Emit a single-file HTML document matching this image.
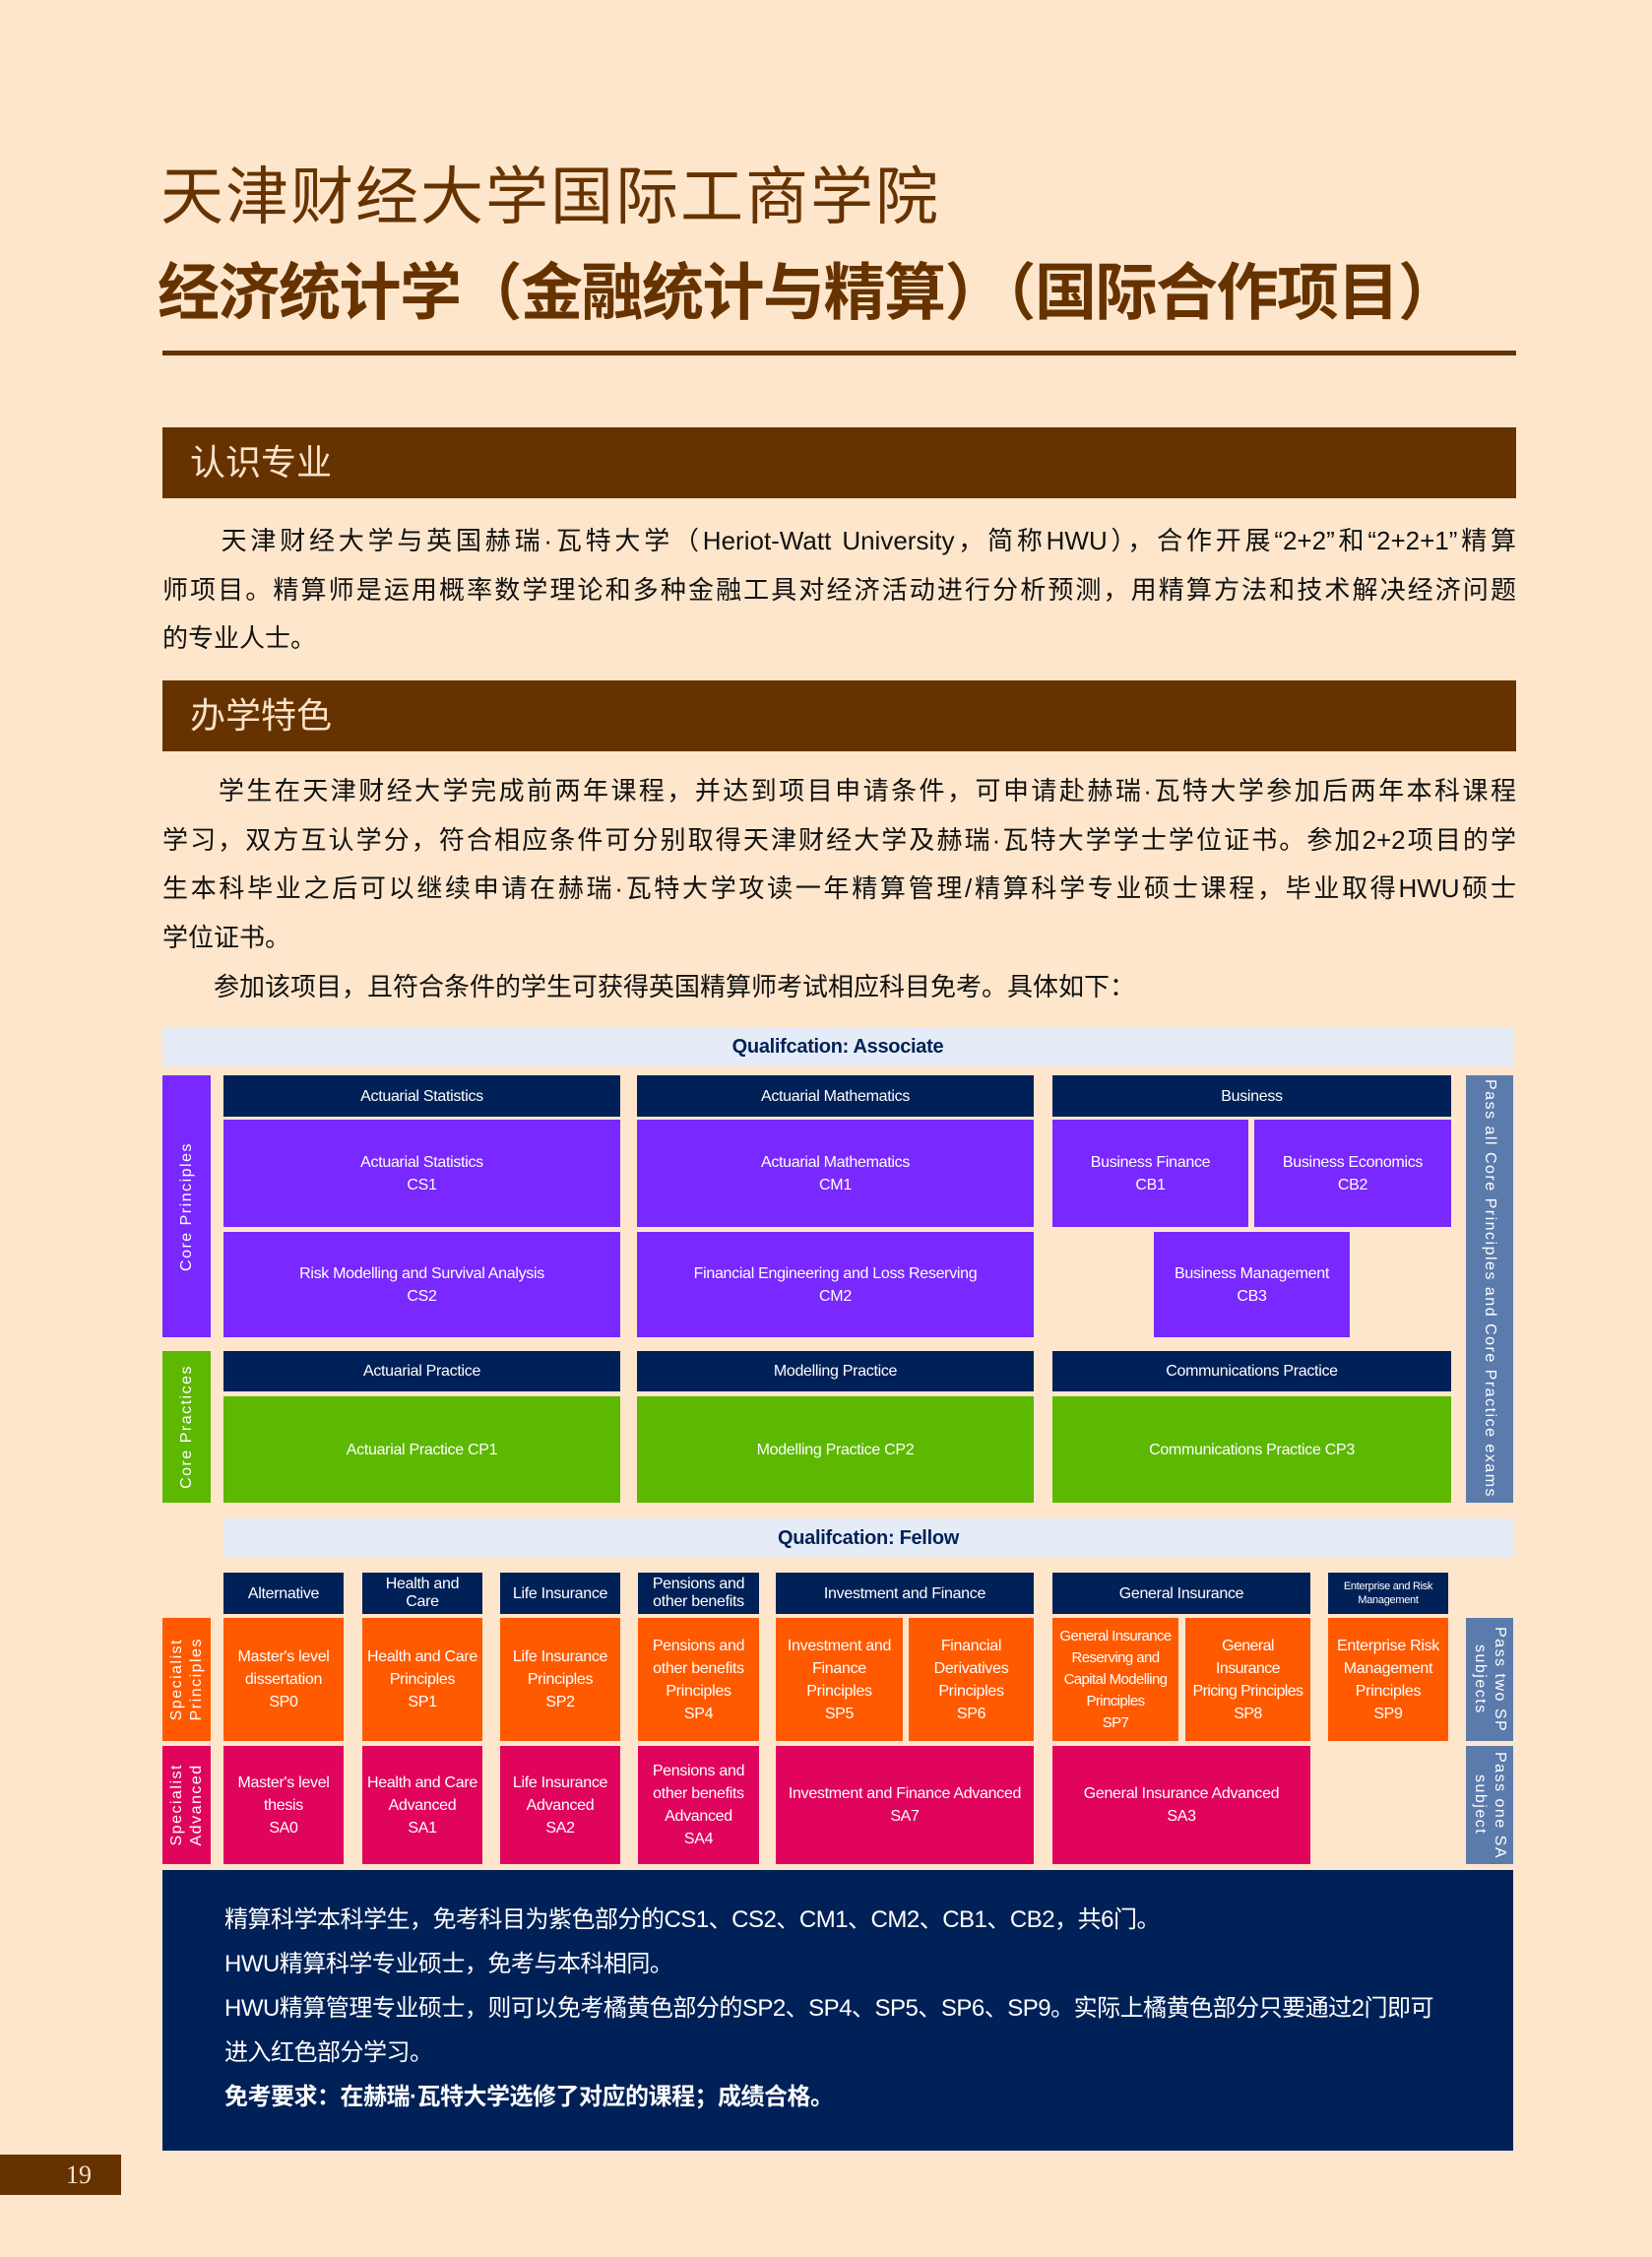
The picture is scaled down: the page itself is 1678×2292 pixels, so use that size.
<!DOCTYPE html>
<html><head><meta charset="utf-8"><style>
html,body{margin:0;padding:0}
body{width:1678px;height:2292px;background:#fee6cc;position:relative;overflow:hidden;font-family:"Liberation Sans","Noto Sans CJK SC",sans-serif}
.a{position:absolute}
.t1{left:163px;top:160px;font:64px/80px "Liberation Sans","Noto Sans CJK SC",sans-serif;color:#663300;letter-spacing:2px;white-space:nowrap}
.t2{left:160px;top:258px;font:bold 63px/80px "Liberation Sans","Noto Sans CJK SC",sans-serif;color:#663300;white-space:nowrap;letter-spacing:-1.5px}
.rule{left:165px;top:356px;width:1375px;height:5px;background:#663300}
.sec{left:165px;width:1375px;height:72px;background:#663300;color:#fbe3c9;font:36px/72px "Liberation Sans","Noto Sans CJK SC",sans-serif;padding-left:28px;box-sizing:border-box}
.p{left:165px;width:1375px;font:26px/49.7px "Liberation Sans","Noto Sans CJK SC",sans-serif;color:#111}
.p div{text-align:justify;text-align-last:justify;height:49.7px;overflow:hidden}
.p div.l{text-align-last:left}
.b{position:absolute;display:flex;align-items:center;justify-content:center;text-align:center;color:#fff;font:16px/23px "Liberation Sans",sans-serif;box-sizing:border-box;letter-spacing:-0.3px}
.n{background:#002157}.pu{background:#7928ff}.g{background:#5cb800}.o{background:#ff5a00}.r{background:#e0045c}.lt{background:#e5ecf7}.sl{background:#5b7bad}
.vl{writing-mode:vertical-rl;transform:rotate(180deg);letter-spacing:1.5px;font-size:16px;line-height:20px}
.vr{writing-mode:vertical-rl;letter-spacing:1.5px;font-size:16px;line-height:20px}
.box{left:165px;top:1899px;width:1372px;height:285px;background:#002157;color:#fff;font:24px/45px "Liberation Sans","Noto Sans CJK SC",sans-serif;padding:28px 0 0 63px;box-sizing:border-box;white-space:nowrap;letter-spacing:-0.5px}
</style></head><body>
<div class="a t1">天津财经大学国际工商学院</div>
<div class="a t2">经济统计学（金融统计与精算）（国际合作项目）</div>
<div class="a rule"></div>
<div class="a sec" style="top:434px">认识专业</div>
<div class="a p" style="top:525px">
<div>　　天津财经大学与英国赫瑞·瓦特大学（Heriot-Watt University，简称HWU），合作开展“2+2”和“2+2+1”精算</div>
<div>师项目。精算师是运用概率数学理论和多种金融工具对经济活动进行分析预测，用精算方法和技术解决经济问题</div>
<div class="l">的专业人士。</div>
</div>
<div class="a sec" style="top:691px">办学特色</div>
<div class="a p" style="top:779px">
<div>　　学生在天津财经大学完成前两年课程，并达到项目申请条件，可申请赴赫瑞·瓦特大学参加后两年本科课程</div>
<div>学习，双方互认学分，符合相应条件可分别取得天津财经大学及赫瑞·瓦特大学学士学位证书。参加2+2项目的学</div>
<div>生本科毕业之后可以继续申请在赫瑞·瓦特大学攻读一年精算管理/精算科学专业硕士课程，毕业取得HWU硕士</div>
<div class="l">学位证书。</div>
<div class="l">　　参加该项目，且符合条件的学生可获得英国精算师考试相应科目免考。具体如下：</div>
</div>

<div class="b lt" style="left:165px;top:1043px;width:1372px;height:40px;color:#002157;font-weight:bold;font-size:20px">Qualifcation: Associate</div>
<div class="b pu" style="left:165px;top:1092px;width:49px;height:266px"><span class="vl">Core Principles</span></div>
<div class="b sl" style="left:1489px;top:1092px;width:48px;height:434px"><span class="vr">Pass all Core Principles and Core Practice exams</span></div>
<div class="b n" style="left:227px;top:1092px;width:403px;height:42px">Actuarial Statistics</div>
<div class="b n" style="left:647px;top:1092px;width:403px;height:42px">Actuarial Mathematics</div>
<div class="b n" style="left:1069px;top:1092px;width:405px;height:42px">Business</div>
<div class="b pu" style="left:227px;top:1137px;width:403px;height:109px">Actuarial Statistics<br>CS1</div>
<div class="b pu" style="left:647px;top:1137px;width:403px;height:109px">Actuarial Mathematics<br>CM1</div>
<div class="b pu" style="left:1069px;top:1137px;width:199px;height:109px">Business Finance<br>CB1</div>
<div class="b pu" style="left:1274px;top:1137px;width:200px;height:109px">Business Economics<br>CB2</div>
<div class="b pu" style="left:227px;top:1251px;width:403px;height:107px">Risk Modelling and Survival Analysis<br>CS2</div>
<div class="b pu" style="left:647px;top:1251px;width:403px;height:107px">Financial Engineering and Loss Reserving<br>CM2</div>
<div class="b pu" style="left:1172px;top:1251px;width:199px;height:107px">Business Management<br>CB3</div>

<div class="b g" style="left:165px;top:1372px;width:49px;height:154px"><span class="vl">Core Practices</span></div>
<div class="b n" style="left:227px;top:1372px;width:403px;height:41px">Actuarial Practice</div>
<div class="b n" style="left:647px;top:1372px;width:403px;height:41px">Modelling Practice</div>
<div class="b n" style="left:1069px;top:1372px;width:405px;height:41px">Communications Practice</div>
<div class="b g" style="left:227px;top:1418px;width:403px;height:108px">Actuarial Practice CP1</div>
<div class="b g" style="left:647px;top:1418px;width:403px;height:108px">Modelling Practice CP2</div>
<div class="b g" style="left:1069px;top:1418px;width:405px;height:108px">Communications Practice CP3</div>

<div class="b lt" style="left:227px;top:1542px;width:1310px;height:40px;color:#002157;font-weight:bold;font-size:20px">Qualifcation: Fellow</div>
<div class="b n" style="left:227px;top:1597px;width:122px;height:42px">Alternative</div>
<div class="b n" style="left:368px;top:1597px;width:122px;height:42px;line-height:18px">Health and<br>Care</div>
<div class="b n" style="left:508px;top:1597px;width:122px;height:42px">Life Insurance</div>
<div class="b n" style="left:648px;top:1597px;width:123px;height:42px;line-height:18px">Pensions and<br>other benefits</div>
<div class="b n" style="left:788px;top:1597px;width:262px;height:42px">Investment and Finance</div>
<div class="b n" style="left:1069px;top:1597px;width:262px;height:42px">General Insurance</div>
<div class="b n" style="left:1349px;top:1597px;width:122px;height:42px;font-size:11px;line-height:14px">Enterprise and Risk<br>Management</div>

<div class="b o" style="left:165px;top:1643px;width:49px;height:125px"><span class="vl">Specialist<br>Principles</span></div>
<div class="b o" style="left:227px;top:1643px;width:122px;height:125px">Master's level<br>dissertation<br>SP0</div>
<div class="b o" style="left:368px;top:1643px;width:122px;height:125px">Health and Care<br>Principles<br>SP1</div>
<div class="b o" style="left:508px;top:1643px;width:122px;height:125px">Life Insurance<br>Principles<br>SP2</div>
<div class="b o" style="left:648px;top:1643px;width:123px;height:125px">Pensions and<br>other benefits<br>Principles<br>SP4</div>
<div class="b o" style="left:788px;top:1643px;width:129px;height:125px">Investment and<br>Finance<br>Principles<br>SP5</div>
<div class="b o" style="left:923px;top:1643px;width:127px;height:125px">Financial<br>Derivatives<br>Principles<br>SP6</div>
<div class="b o" style="left:1069px;top:1643px;width:128px;height:125px;font-size:15px;line-height:22px;letter-spacing:-0.6px">General Insurance<br>Reserving and<br>Capital Modelling<br>Principles<br>SP7</div>
<div class="b o" style="left:1204px;top:1643px;width:127px;height:125px;letter-spacing:-0.6px">General<br>Insurance<br>Pricing Principles<br>SP8</div>
<div class="b o" style="left:1349px;top:1643px;width:122px;height:125px">Enterprise Risk<br>Management<br>Principles<br>SP9</div>
<div class="b sl" style="left:1489px;top:1643px;width:48px;height:125px"><span class="vr">Pass two SP<br>subjects</span></div>

<div class="b r" style="left:165px;top:1773px;width:49px;height:120px"><span class="vl">Specialist<br>Advanced</span></div>
<div class="b r" style="left:227px;top:1773px;width:122px;height:120px">Master's level<br>thesis<br>SA0</div>
<div class="b r" style="left:368px;top:1773px;width:122px;height:120px">Health and Care<br>Advanced<br>SA1</div>
<div class="b r" style="left:508px;top:1773px;width:122px;height:120px">Life Insurance<br>Advanced<br>SA2</div>
<div class="b r" style="left:648px;top:1773px;width:123px;height:120px">Pensions and<br>other benefits<br>Advanced<br>SA4</div>
<div class="b r" style="left:788px;top:1773px;width:262px;height:120px">Investment and Finance Advanced<br>SA7</div>
<div class="b r" style="left:1069px;top:1773px;width:262px;height:120px">General Insurance Advanced<br>SA3</div>
<div class="b sl" style="left:1489px;top:1773px;width:48px;height:120px"><span class="vr">Pass one SA<br>subject</span></div>

<div class="a box">精算科学本科学生，免考科目为紫色部分的CS1、CS2、CM1、CM2、CB1、CB2，共6门。<br>HWU精算科学专业硕士，免考与本科相同。<br>HWU精算管理专业硕士，则可以免考橘黄色部分的SP2、SP4、SP5、SP6、SP9。实际上橘黄色部分只要通过2门即可<br>进入红色部分学习。<br><b>免考要求：在赫瑞·瓦特大学选修了对应的课程；成绩合格。</b></div>
<div class="a" style="left:0;top:2188px;width:123px;height:41px;background:#663300;color:#fbe3c9;font:26px/41px 'Liberation Serif',serif;padding-left:67px;box-sizing:border-box">19</div>
</body></html>
